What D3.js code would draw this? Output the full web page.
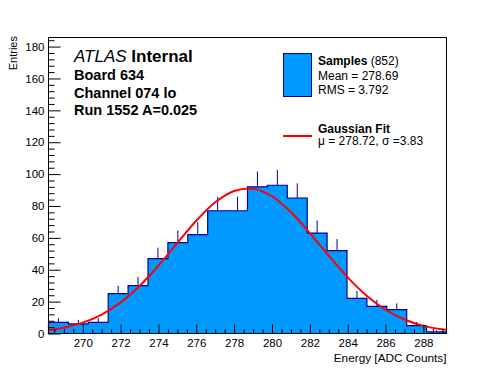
<!DOCTYPE html>
<html>
<head>
<meta charset="utf-8">
<script src="https://cdn.jsdelivr.net/npm/d3@7"></script>
<style>
  body { margin: 0; background: #fff; }
  svg text { font-family: "Liberation Sans", Arial, Helvetica, sans-serif; fill: #000; }
</style>
</head>
<body>
<div id="chart"></div>
<script>
// histogram: 20 bins between these edges
const binLow = 268.19;
const binHigh = 289.22;
const counts = [7, 6, 7, 25, 30, 47, 57, 62, 77, 77, 92, 93, 85, 63, 52, 22, 17, 15, 5, 1];

// gaussian fit curve
const fitE = [268.19, 269, 270, 271, 272, 273, 274, 275, 276, 277, 278, 279, 280, 281, 282, 283, 284, 285, 286, 287, 288, 289.22];
const fitN = [2.0, 3.6, 6.8, 11.9, 19.5, 29.8, 42.6, 56.8, 70.7, 82.3, 89.4, 90.8, 86.1, 76.2, 63.0, 48.8, 35.2, 23.7, 14.9, 8.8, 4.8, 2.3];

const xTicks = [270, 272, 274, 276, 278, 280, 282, 284, 286, 288];
const yTicks = [0, 20, 40, 60, 80, 100, 120, 140, 160, 180];

const infoLines = ["Board 634", "Channel 074 lo", "Run 1552 A=0.025"];

const w = 496, h = 372;
const margin = {top: 37.5, right: 49.5, bottom: 38.5, left: 48.5};
const fillBlue = "#0099ff";
const lineBlue = "#000099";

const svg = d3.select("#chart").append("svg")
    .attr("width", w)
    .attr("height", h);

svg.append("rect")
    .attr("width", w)
    .attr("height", h)
    .attr("fill", "white");

const x = d3.scaleLinear()
    .domain([binLow, binHigh])
    .range([margin.left, w - margin.right]);

const y = d3.scaleLinear()
    .domain([0, 185.7])
    .range([h - margin.bottom, margin.top]);

svg.append("clipPath").attr("id", "frameClip")
  .append("rect")
    .attr("x", margin.left)
    .attr("y", margin.top)
    .attr("width", w - margin.left - margin.right)
    .attr("height", h - margin.top - margin.bottom);

// bins
const binW = (binHigh - binLow) / counts.length;
const bins = counts.map((c, i) => ({x0: binLow + i * binW, x1: binLow + (i + 1) * binW, n: c}));

const stepPts = bins.map(b => [b.x0, b.n]);
stepPts.push([binHigh, counts[counts.length - 1]]);

// error bars (only the upper half shows above the fill)
svg.append("g")
  .selectAll("line")
  .data(bins)
  .join("line")
    .attr("x1", d => x((d.x0 + d.x1) / 2))
    .attr("x2", d => x((d.x0 + d.x1) / 2))
    .attr("y1", d => y(d.n))
    .attr("y2", d => y(d.n + Math.sqrt(d.n)))
    .attr("stroke", lineBlue)
    .attr("stroke-width", 1);

svg.append("path")
    .datum(stepPts)
    .attr("fill", fillBlue)
    .attr("d", d3.area()
        .x(d => x(d[0]))
        .y0(y(0))
        .y1(d => y(d[1]))
        .curve(d3.curveStepAfter));

const outline = [[binLow, 0]].concat(stepPts, [[binHigh, 0]]);
svg.append("path")
    .datum(outline)
    .attr("fill", "none")
    .attr("stroke", lineBlue)
    .attr("stroke-width", 1.2)
    .attr("d", d3.line()
        .x(d => x(d[0]))
        .y(d => y(d[1]))
        .curve(d3.curveStepAfter));

// fit curve
svg.append("path")
    .datum(d3.zip(fitE, fitN))
    .attr("clip-path", "url(#frameClip)")
    .attr("fill", "none")
    .attr("stroke", "#ff0000")
    .attr("stroke-width", 2)
    .attr("d", d3.line()
        .x(d => x(d[0]))
        .y(d => y(d[1]))
        .curve(d3.curveCatmullRom));

// axes, ticks pointing inward
const minorX = d3.range(268.5, binHigh, 0.5).filter(v => v % 2 !== 0);
const minorY = d3.range(4, 185, 4).filter(v => v % 20 !== 0);

svg.append("g")
    .attr("transform", `translate(0, ${h - margin.bottom})`)
    .call(d3.axisBottom(x).tickValues(minorX).tickSize(-4.5).tickFormat(""))
    .call(g => g.select(".domain").remove());

svg.append("g")
    .attr("class", "xAxis")
    .attr("transform", `translate(0, ${h - margin.bottom})`)
    .call(d3.axisBottom(x).tickValues(xTicks).tickSize(-9).tickSizeOuter(0).tickPadding(5).tickFormat(d3.format("d")))
    .call(g => g.select(".domain").remove());

svg.append("g")
    .attr("transform", `translate(${margin.left}, 0)`)
    .call(d3.axisLeft(y).tickValues(minorY).tickSize(-6).tickFormat(""))
    .call(g => g.select(".domain").remove());

svg.append("g")
    .attr("class", "yAxis")
    .attr("transform", `translate(${margin.left}, 0)`)
    .call(d3.axisLeft(y).tickValues(yTicks).tickSize(-12).tickSizeOuter(0).tickPadding(4))
    .call(g => g.select(".domain").remove());

svg.selectAll(".tick line").attr("stroke", "#000");
svg.selectAll(".xAxis text, .yAxis text")
    .attr("font-size", 11.5)
    .attr("font-family", "Liberation Sans, Arial, sans-serif");

// frame
svg.append("rect")
    .attr("x", margin.left)
    .attr("y", margin.top)
    .attr("width", w - margin.left - margin.right)
    .attr("height", h - margin.top - margin.bottom)
    .attr("fill", "none")
    .attr("stroke", "#000")
    .attr("stroke-width", 1);

// axis titles
svg.append("text")
    .attr("text-anchor", "end")
    .attr("x", w - margin.right)
    .attr("y", 361.5)
    .attr("font-size", 11.8)
    .text("Energy [ADC Counts]");

svg.append("text")
    .attr("text-anchor", "end")
    .attr("transform", "translate(17, 36) rotate(-90)")
    .attr("font-size", 11)
    .text("Entries");

// ATLAS label block
const lbl = svg.append("text")
    .attr("x", 74)
    .attr("y", 62)
    .attr("font-size", 17);
lbl.append("tspan").attr("font-style", "italic").text("ATLAS");
lbl.append("tspan").attr("font-weight", "bold").text(" Internal");

svg.append("g").selectAll("text")
  .data(infoLines)
  .join("text")
    .attr("x", 74)
    .attr("y", (d, i) => 80 + i * 17.5)
    .attr("font-size", 14.5)
    .attr("font-weight", "bold")
    .text(d => d);

// legend
const leg = svg.append("g");
leg.append("rect")
    .attr("x", 283.5)
    .attr("y", 53.5)
    .attr("width", 28)
    .attr("height", 43)
    .attr("fill", fillBlue)
    .attr("stroke", lineBlue)
    .attr("stroke-width", 1);

const t1 = leg.append("text").attr("x", 318).attr("y", 65).attr("font-size", 12);
t1.append("tspan").attr("font-weight", "bold").text("Samples");
t1.append("tspan").text(" (852)");
leg.append("text").attr("x", 318).attr("y", 80).attr("font-size", 12).text("Mean = 278.69");
leg.append("text").attr("x", 318).attr("y", 93.5).attr("font-size", 12).text("RMS = 3.792");

leg.append("line")
    .attr("x1", 283).attr("x2", 312)
    .attr("y1", 136).attr("y2", 136)
    .attr("stroke", "#ff0000")
    .attr("stroke-width", 2);
leg.append("text").attr("x", 318).attr("y", 132.5).attr("font-size", 12)
    .attr("font-weight", "bold").text("Gaussian Fit");
leg.append("text").attr("x", 318).attr("y", 145).attr("font-size", 12)
    .text("μ = 278.72, σ =3.83");
</script>
</body>
</html>
